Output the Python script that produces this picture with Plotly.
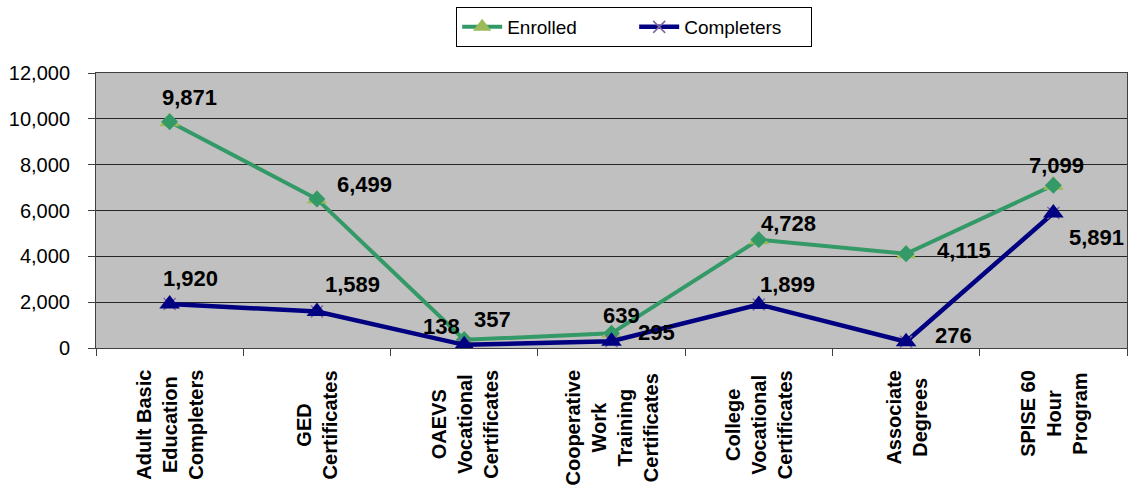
import plotly.graph_objects as go

# --- data -------------------------------------------------------------
categories = [
    "Adult Basic<br>Education<br>Completers",
    "GED<br>Certificates",
    "OAEVS<br>Vocational<br>Certificates",
    "Cooperative<br>Work<br>Training<br>Certificates",
    "College<br>Vocational<br>Certificates",
    "Associate<br>Degrees",
    "SPISE 60<br>Hour<br>Program",
]
enrolled = [9871, 6499, 357, 639, 4728, 4115, 7099]
completers = [1920, 1589, 138, 295, 1899, 276, 5891]
y_ticks = [0, 2000, 4000, 6000, 8000, 10000, 12000]

# --- label placement (pixel offsets from each point) ------------------
enrolled_offsets = [(20, 24), (48, 15), (28, 20), (10, 18), (30, 16), (58, 3), (3, 20)]
completers_offsets = [(21, 26), (36, 27), (-23, 18), (45, 9), (29, 20), (47, 6), (43, -24)]

FONT = "Arial, Liberation Sans, sans-serif"
GREEN = "#339966"
LIGHT_GREEN = "#9BBB59"
NAVY = "#000080"
PURPLE = "#8064A2"

fig = go.Figure()

# Enrolled: line with light triangles, dark diamonds on top
fig.add_trace(go.Scatter(
    x=categories, y=enrolled, name="Enrolled", mode="lines+markers",
    line=dict(color=GREEN, width=4),
    marker=dict(symbol="triangle-up", size=18, color=LIGHT_GREEN),
))
fig.add_trace(go.Scatter(
    x=categories, y=enrolled, mode="markers", showlegend=False, hoverinfo="skip",
    marker=dict(symbol="diamond", size=13, color=GREEN),
))

# Completers: line with purple crosses, navy triangles on top
fig.add_trace(go.Scatter(
    x=categories, y=completers, name="Completers", mode="lines+markers",
    line=dict(color=NAVY, width=4.5),
    marker=dict(symbol="x-thin-open", size=12, color=PURPLE, line=dict(color=PURPLE, width=1.5)),
))
fig.add_trace(go.Scatter(
    x=categories, y=completers, mode="markers", showlegend=False, hoverinfo="skip",
    marker=dict(symbol="triangle-up", size=18, color=NAVY),
))

annotations = []
for values, offsets in ((enrolled, enrolled_offsets), (completers, completers_offsets)):
    for cat, v, (dx, dy) in zip(categories, values, offsets):
        annotations.append(dict(
            x=cat, y=v, xref="x", yref="y", text=f"<b>{v:,}</b>",
            showarrow=False, xanchor="center", yanchor="middle",
            xshift=dx, yshift=dy,
            font=dict(family=FONT, size=22, color="black"),
        ))

# Rotated category labels below the axis
for cat in categories:
    annotations.append(dict(
        x=cat, y=0, xref="x", yref="paper", text=f"<b>{cat}</b>",
        showarrow=False, textangle=-90, align="center",
        xanchor="center", yanchor="top", yshift=-20,
        font=dict(family=FONT, size=20, color="black"),
    ))

fig.update_layout(
    width=1129, height=489,
    margin=dict(l=96, r=2, t=73, b=141),
    paper_bgcolor="white",
    plot_bgcolor="#C0C0C0",
    font=dict(family=FONT, color="black"),
    annotations=annotations,
    showlegend=True,
    legend=dict(
        orientation="h", x=0.522, xanchor="center", y=1.24, yanchor="top",
        bordercolor="black", borderwidth=1, bgcolor="white",
        font=dict(family=FONT, size=19, color="black"),
        entrywidth=122, itemwidth=40,
    ),
)

fig.update_xaxes(
    type="category", range=[-0.5, 6.5],
    showticklabels=False, tickson="boundaries",
    ticks="outside", ticklen=7, tickcolor="#404040",
    showgrid=False, showline=True, linecolor="#404040", linewidth=1, mirror=True,
)
fig.update_yaxes(
    range=[0, 12000], tickvals=y_ticks, tickformat=",",
    ticks="outside", ticklen=7, tickcolor="#404040", ticklabelstandoff=14,
    tickfont=dict(family=FONT, size=20, color="black"),
    showgrid=True, gridcolor="#262626", gridwidth=1, zeroline=False,
    showline=True, linecolor="#404040", linewidth=1, mirror=True,
)

fig.write_html("out.html")
